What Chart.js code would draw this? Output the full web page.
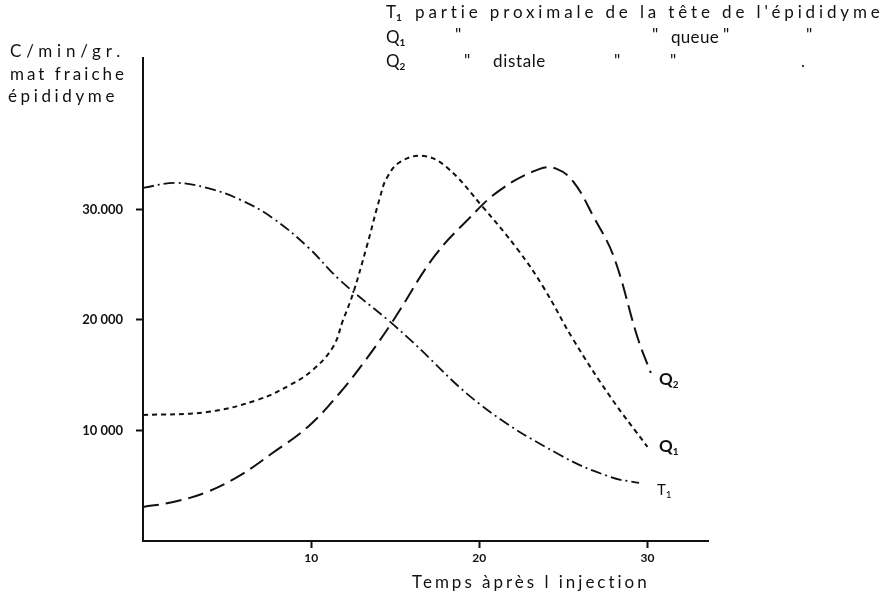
<!DOCTYPE html>
<html>
<head>
<meta charset="utf-8">
<script src="https://cdn.jsdelivr.net/npm/chart.js@4"></script>
<style>
  body { margin: 0; background: #fff; }
  #wrap { position: relative; width: 891px; height: 604px; }
  .t { position: absolute; font-family: Lato, "DejaVu Sans", sans-serif; color: #111; white-space: nowrap; line-height: 1; }
  .big { font-size: 17px; }
  .lab { font-size: 17px; font-weight: bold; }
  sub { font-size: 10px; vertical-align: -3px; font-weight: bold; }
</style>
</head>
<body>
<div id="wrap">
  <canvas id="graf"></canvas>

  <!-- titre de l'axe vertical -->
  <div class="t big" data-w="115" style="left:10px; top:42px;">C/min/gr.</div>
  <div class="t big" data-w="117" style="left:10px; top:65px;">mat fraiche</div>
  <div class="t big" data-w="110" style="left:8px; top:87px;">épididyme</div>

  <!-- légende en haut à droite -->
  <div class="t big" style="left:386px; top:3px;">T<sub>1</sub></div>
  <div class="t big" data-w="469" style="left:415px; top:3px;">partie proximale de la tête de l'épididyme</div>
  <div class="t big" style="left:386px; top:28px;">Q<sub>1</sub></div>
  <div class="t big" style="left:455px; top:26px;">"</div>
  <div class="t big" style="left:652px; top:26px;">"</div>
  <div class="t big" data-w="48" style="left:671px; top:28px;">queue</div>
  <div class="t big" style="left:723px; top:26px;">"</div>
  <div class="t big" style="left:806px; top:26px;">"</div>
  <div class="t big" style="left:386px; top:52px;">Q<sub>2</sub></div>
  <div class="t big" style="left:464px; top:52px;">"</div>
  <div class="t big" data-w="53" style="left:493px; top:52px;">distale</div>
  <div class="t big" style="left:614px; top:52px;">"</div>
  <div class="t big" style="left:670px; top:52px;">"</div>
  <div class="t big" style="left:801px; top:52px;">.</div>

  <!-- étiquettes au bout des courbes -->
  <div class="t lab" style="left:659px; top:370px;">Q<sub>2</sub></div>
  <div class="t lab" style="left:659px; top:437px;">Q<sub>1</sub></div>
  <div class="t" style="left:657px; top:482px; font-size:15px;">T<sub style="font-weight:normal">1</sub></div>

  <!-- titre de l'axe horizontal -->
  <div class="t big" data-w="238" style="left:412px; top:573px;">Temps àprès l injection</div>
</div>

<script>
// temps après l'injection (abscisses) et C/min/gr pour chaque courbe
const tempsT1 = [0, 1.9, 3.8, 5.8, 7.7, 9.8, 11.7, 14.7, 15.9, 20.1, 24.8, 27.8, 29.5];
const valeursT1 = [31950, 32400, 31950, 30860, 29230, 26600, 23620, 19820, 18190, 12300, 7780, 5790, 5250];

const tempsQ1 = [0, 3.8, 6.8, 8.75, 10.1, 11.3, 11.9, 12.5, 13.3, 14.1, 14.5, 15.3, 16.7, 18.1, 20.2, 22.3, 23.8, 25.6, 27.8, 30.0];
const valeursQ1 = [11400, 11670, 12760, 14120, 15480, 17560, 20000, 22440, 26610, 31130, 32850, 34300, 34840, 33760, 30230, 26340, 22990, 18190, 13030, 8510];

const tempsQ2 = [0, 1.8, 3.8, 5.8, 7.7, 9.8, 11.7, 13.3, 14.9, 17.3, 19.3, 21.25, 23.6, 24.6, 25.6, 26.8, 28.0, 29.4, 30.2];
const valeursQ2 = [3080, 3530, 4430, 5970, 7960, 10320, 13390, 16500, 20000, 25700, 29050, 31770, 33670, 33670, 32490, 29320, 25700, 18460, 15200];

const ticksX = [10, 20, 30];
const ticksY = [10000, 20000, 30000];
const etiquettesY = ['10 000', '20 000', '30.000'];

// étire les textes espacés pour retrouver la largeur de l'original
document.querySelectorAll('[data-w]').forEach(function(el) {
  const cible = parseFloat(el.dataset.w);
  const n = el.textContent.length;
  const naturel = el.getBoundingClientRect().width;
  el.style.letterSpacing = ((cible - naturel) / n) + 'px';
});

// convertit deux listes en points {x, y}
function points(xs, ys) {
  return xs.map((x, i) => ({ x: x, y: ys[i] }));
}

const canvas = document.getElementById('graf');
const ctx = canvas.getContext('2d');
const police = 'Lato, "DejaVu Sans", sans-serif';

new Chart(ctx, {
  type: 'line',
  data: {
    datasets: [
      {
        label: 'T1',
        data: points(tempsT1, valeursT1),
        borderColor: '#111',
        borderWidth: 1.8,
        borderDash: [11, 4, 2, 4]
      },
      {
        label: 'Q1',
        data: points(tempsQ1, valeursQ1),
        borderColor: '#111',
        borderWidth: 2,
        borderDash: [5, 4]
      },
      {
        label: 'Q2',
        data: points(tempsQ2, valeursQ2),
        borderColor: '#111',
        borderWidth: 2,
        borderDash: [16, 7]
      }
    ]
  },
  options: {
    responsive: true,
    maintainAspectRatio: false,
    animation: false,
    layout: { padding: { left: 0, right: 183, top: 58, bottom: 0 } },
    elements: {
      point: { radius: 0 },
      line: { tension: 0.4, fill: false }
    },
    plugins: {
      legend: { display: false },
      tooltip: { enabled: false }
    },
    scales: {
      x: {
        type: 'linear',
        min: 0,
        max: 33.6,
        afterBuildTicks: (axis) => { axis.ticks = ticksX.map(v => ({ value: v })); },
        afterFit: (axis) => { axis.height = 63; },
        border: { display: true, color: '#111', width: 2 },
        grid: { drawOnChartArea: false, drawTicks: true, tickLength: 7, color: '#111', tickWidth: 2 },
        ticks: {
          padding: 3,
          color: '#111',
          font: { family: police, size: 12, weight: 'bold' },
          callback: (v) => String(v)
        }
      },
      y: {
        min: 0,
        max: 43700,
        afterBuildTicks: (axis) => { axis.ticks = ticksY.map(v => ({ value: v })); },
        afterFit: (axis) => { axis.width = 143; },
        border: { display: true, color: '#111', width: 2 },
        grid: { drawOnChartArea: false, drawTicks: true, tickLength: 7, color: '#111', tickWidth: 2 },
        ticks: {
          padding: 13,
          color: '#111',
          font: { family: police, size: 13, weight: 'bold' },
          callback: (v) => etiquettesY[ticksY.indexOf(v)] || ''
        }
      }
    }
  }
});
</script>
</body>
</html>
